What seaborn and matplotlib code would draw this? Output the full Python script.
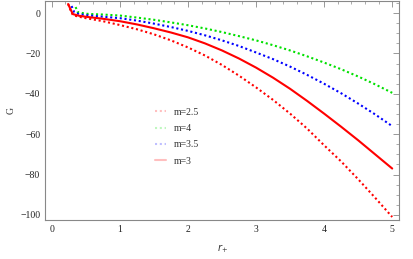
import matplotlib
matplotlib.use("Agg")
import matplotlib.pyplot as plt
import seaborn as sns
from matplotlib.lines import Line2D
from matplotlib.ticker import MultipleLocator

# valores
r_m25 = [0.24, 0.28, 0.31, 0.4, 0.5, 0.6, 0.75, 1.0, 1.25, 1.5, 1.75, 2.0, 2.25, 2.5, 2.75,
         3.0, 3.25, 3.5, 3.75, 4.0, 4.25, 4.5, 4.75, 5.0]
g_m25 = [4.5, 1.0, -1.0, -1.8, -2.5, -3.1, -4.0, -5.9, -8.0, -10.5, -13.5, -17.0, -21.0,
         -25.7, -31.0, -36.8, -43.0, -49.8, -57.2, -65.5, -73.5, -82.3, -91.5, -101.0]

r_m3 = [0.24, 0.28, 0.31, 0.4, 0.5, 0.6, 0.75, 1.0, 1.25, 1.5, 1.75, 2.0, 2.25, 2.5, 2.75,
        3.0, 3.25, 3.5, 3.75, 4.0, 4.25, 4.5, 4.75, 5.0]
g_m3 = [4.5, 1.5, -0.5, -1.3, -1.8, -2.2, -2.8, -4.0, -5.6, -7.5, -9.6, -12.0, -15.0,
        -18.5, -22.5, -27.0, -32.0, -37.5, -43.5, -49.8, -56.3, -63.0, -70.0, -77.0]

r_m35 = [0.29, 0.33, 0.4, 0.5, 0.6, 0.75, 1.0, 1.25, 1.5, 1.75, 2.0, 2.25, 2.5, 2.75,
         3.0, 3.25, 3.5, 3.75, 4.0, 4.25, 4.5, 4.75, 5.0]
g_m35 = [3.5, 0.5, -0.5, -1.0, -1.3, -1.8, -2.5, -3.7, -5.2, -6.9, -8.8, -11.0, -13.5,
         -16.3, -19.5, -22.8, -26.5, -30.6, -35.0, -39.7, -44.8, -50.2, -56.0]

r_m4 = [0.35, 0.38, 0.5, 0.6, 0.75, 1.0, 1.25, 1.5, 1.75, 2.0, 2.25, 2.5, 2.75,
        3.0, 3.25, 3.5, 3.75, 4.0, 4.25, 4.5, 4.75, 5.0]
g_m4 = [3.0, 0.5, -0.3, -0.5, -0.7, -1.2, -2.2, -3.3, -4.6, -6.0, -7.6, -9.4, -11.4,
        -13.5, -15.9, -18.5, -21.4, -24.5, -27.8, -31.4, -35.3, -39.5]

curvas = [
    ("m=2.5", r_m25, g_m25, "#ff0000", (0, (1, 1.3))),
    ("m=4", r_m4, g_m4, "#00e000", (0, (1, 1.3))),
    ("m=3.5", r_m35, g_m35, "#0000ff", (0, (1, 1.3))),
    ("m=3", r_m3, g_m3, "#ff0000", "-"),
]

sns.set_style("white")
plt.rcParams["font.family"] = ["Liberation Serif", "DejaVu Serif"]

fig = plt.figure(figsize=(4.14, 2.59), dpi=100)
ax = fig.add_axes([0.1087, 0.1506, 0.8551, 0.8455])

handles = []
for nome, r, g, cor, estilo in curvas:
    sns.lineplot(x=r, y=g, ax=ax, color=cor, linestyle=estilo, linewidth=1.5,
                 legend=False)
    handles.append(Line2D([], [], color=cor, linestyle=estilo, linewidth=1.5,
                          alpha=0.25, label=nome))

ax.set_xlim(-0.1, 5.1)
ax.set_ylim(-102.5, 6)
ax.xaxis.set_major_locator(MultipleLocator(1))
ax.xaxis.set_minor_locator(MultipleLocator(0.2))
ax.yaxis.set_major_locator(MultipleLocator(20))
ax.yaxis.set_minor_locator(MultipleLocator(5))
ax.tick_params(which="both", direction="in", top=True, right=True,
               color="#888888", labelsize=7, labelcolor="#222222")
ax.tick_params(which="major", length=4, width=0.6)
ax.tick_params(which="minor", length=2, width=0.5)
ax.set_yticklabels([f"{int(v)}".replace("-", "\u2212") for v in ax.get_yticks()])
for s in ax.spines.values():
    s.set_color("#888888")
    s.set_linewidth(0.8)

ax.set_xlabel(r"$r_{+}$", fontsize=7, color="#333333", labelpad=6)
ax.set_ylabel("G", fontsize=7, color="#333333", labelpad=3)

ax.legend(handles=handles, loc="center left", bbox_to_anchor=(0.31, 0.38),
          frameon=False, fontsize=7, handlelength=1.2, labelspacing=0.75,
          borderpad=0, borderaxespad=0, labelcolor="#333333")

fig.savefig("out.png", dpi=100)
